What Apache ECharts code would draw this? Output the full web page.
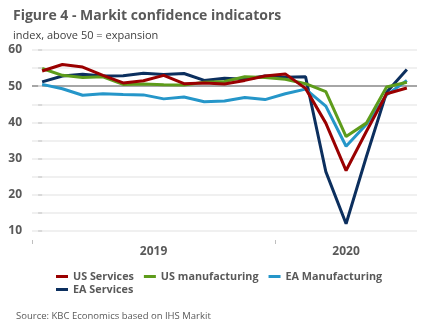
<!DOCTYPE html>
<html>
<head>
<meta charset="utf-8">
<script src="https://cdn.jsdelivr.net/npm/echarts@6/dist/echarts.min.js"></script>
<style>
html,body{margin:0;padding:0;background:#fff;}
#c{width:432px;height:334px;}
</style>
</head>
<body>
<div id="c"></div>
<script>
const months = ['Jan 2019','Feb 2019','Mar 2019','Apr 2019','May 2019','Jun 2019','Jul 2019','Aug 2019','Sep 2019','Oct 2019','Nov 2019','Dec 2019','Jan 2020','Feb 2020','Mar 2020','Apr 2020','May 2020','Jun 2020','Jul 2020'];
const yearLabels = ['2019', '2020'];
const usServices = [54.2, 56.0, 55.3, 53.0, 50.9, 51.5, 53.0, 50.7, 50.9, 50.6, 51.6, 52.8, 53.4, 49.4, 39.8, 26.7, 37.5, 47.9, 49.5];
const usManufacturing = [54.9, 53.0, 52.4, 52.6, 50.5, 50.6, 50.4, 50.3, 51.1, 51.3, 52.6, 52.4, 51.9, 50.7, 48.5, 36.1, 39.8, 49.8, 51.1];
const eaManufacturing = [50.5, 49.3, 47.5, 47.9, 47.7, 47.6, 46.5, 47.0, 45.7, 45.9, 46.9, 46.3, 47.9, 49.2, 44.5, 33.4, 39.4, 47.6, 51.6];
const eaServices = [51.2, 52.8, 53.3, 52.8, 52.9, 53.6, 53.2, 53.5, 51.6, 52.2, 51.9, 52.8, 52.5, 52.6, 26.4, 12.0, 30.5, 48.3, 54.6];

const FONT = 'Open Sans';
const GREY = '#595959';
const toPts = arr => arr.map((v, i) => [i, v]);

const chart = echarts.init(document.getElementById('c'), null, {renderer: 'canvas'});
const gridColors = [];
for (let v = 10; v <= 60; v += 5) gridColors.push(v === 50 ? '#a6a6a6' : '#f0f0f0');

const lineSeries = (name, data, color) => ({
  name, type: 'line', data: toPts(data), symbol: 'none', showSymbol: false,
  lineStyle: {color, width: 3}, itemStyle: {color}, animation: false
});

chart.setOption({
  animation: false,
  textStyle: {fontFamily: FONT},
  title: [
    {text: 'Figure 4 - Markit confidence indicators', left: 8, top: 4,
     textStyle: {fontFamily: FONT, fontSize: 14, fontWeight: 'bold', color: GREY}},
    {text: 'index, above 50 = expansion', left: 8, top: 25,
     textStyle: {fontFamily: FONT, fontSize: 11, fontWeight: 'normal', color: '#404040'}},
    {text: 'Source: KBC Economics based on IHS Markit', left: 11, top: 306,
     textStyle: {fontFamily: FONT, fontSize: 9.5, fontWeight: 'normal', color: GREY}}
  ],
  legend: [
    {data: ['US Services', 'US manufacturing', 'EA Manufacturing'], left: 51, top: 266,
     icon: 'rect', itemWidth: 12, itemHeight: 3, itemGap: 10,
     textStyle: {fontFamily: FONT, fontSize: 10.8, fontWeight: 'bold', color: GREY}},
    {data: ['EA Services'], left: 51, top: 279,
     icon: 'rect', itemWidth: 12, itemHeight: 3, itemGap: 10,
     textStyle: {fontFamily: FONT, fontSize: 10.8, fontWeight: 'bold', color: GREY}}
  ],
  grid: {left: 32, right: 15, top: 50, bottom: 103},
  xAxis: {
    type: 'value', min: -0.5, max: 18.5, interval: 0.5, offset: 9,
    axisLine: {show: false},
    splitLine: {show: false},
    axisTick: {show: true, length: 4, customValues: [-0.5, 11.5], lineStyle: {color: '#bfbfbf', width: 1}},
    axisLabel: {customValues: [5.5, 15], margin: 6,
      formatter: v => (v < 11.5 ? yearLabels[0] : yearLabels[1]),
      fontFamily: FONT, fontSize: 12, fontWeight: 'bold', color: GREY}
  },
  yAxis: {
    type: 'value', min: 10, max: 60, interval: 5,
    axisLine: {show: false},
    axisTick: {show: true, length: 4, lineStyle: {color: '#d9d9d9', width: 2}},
    axisLabel: {margin: 10, formatter: v => (v % 10 === 0 ? String(v) : ''),
      fontFamily: FONT, fontSize: 12, fontWeight: 'bold', color: GREY},
    splitLine: {show: true, lineStyle: {color: gridColors, width: 2}}
  },
  series: [
    lineSeries('EA Services', eaServices, '#0c2f5e'),
    lineSeries('EA Manufacturing', eaManufacturing, '#2596c9'),
    lineSeries('US manufacturing', usManufacturing, '#5e9c1b'),
    lineSeries('US Services', usServices, '#9a0000')
  ]
});
</script>
</body>
</html>
